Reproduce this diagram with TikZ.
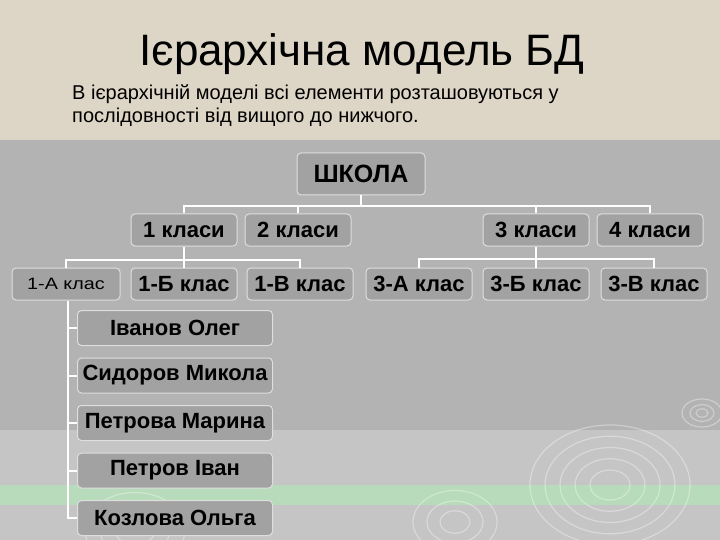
\documentclass[tikz,border=0pt]{standalone}
\usepackage{fontspec}
\setmainfont{Liberation Sans}
\newfontfamily\widefont[FakeStretch=1.2]{Liberation Sans}
\usepackage{tikz}
\usetikzlibrary{positioning}
\definecolor{paper}{HTML}{DDD6C6}
\definecolor{slate}{HTML}{B3B3B3}
\definecolor{slatelight}{HTML}{C5C5C5}
\definecolor{mint}{HTML}{B7DBBB}
\definecolor{boxfill}{HTML}{A2A2A2}
\definecolor{boxline}{HTML}{DEDEDE}
\tikzstyle{block} = [draw=boxline, fill=boxfill, rounded corners=4pt, line width=1pt, minimum height=32pt, minimum width=106pt, inner sep=0pt, font=\fontsize{22}{24}\selectfont\bfseries]
\tikzstyle{pupil} = [block, minimum width=195pt, minimum height=35pt, font=\fontsize{22}{24}\selectfont\bfseries]
\tikzstyle{link} = [draw=white, line width=2pt]
\tikzstyle{ring} = [draw=white, opacity=0.35, line width=1.2pt]

\begin{document}
\begin{tikzpicture}[x=1pt, y=-1pt]
    \useasboundingbox (0,0) rectangle (720,540);
    % slide background
    \begin{scope}
        \clip (0,0) rectangle (720,540);
        \fill[paper] (0,0) rectangle (720,140);
        \fill[slate] (0,140) rectangle (720,430);
        \fill[slatelight] (0,430) rectangle (720,540);
        \fill[mint] (0,485) rectangle (720,505);
        \foreach \r in {20,35,50,65,80} \draw[ring] (610,485) ellipse ({\r pt} and {0.75*\r pt});
        \foreach \r in {15,28,42} \draw[ring] (455,522) ellipse ({\r pt} and {0.75*\r pt});
        \foreach \r in {20,35,50} \draw[ring] (135,530) ellipse ({\r pt} and {0.75*\r pt});
        \foreach \r in {6,12,20} \draw[ring] (702,413) ellipse ({\r pt} and {0.7*\r pt});
    \end{scope}

    \node[anchor=base, font=\fontsize{44}{48}\selectfont] (title) at (362,66) {Ієрархічна модель БД};
    \node[anchor=base west, inner sep=0pt, font=\fontsize{20}{24}\selectfont] (intro) at (72,100)
        {В ієрархічній моделі всі елементи розташовуються у};
    \node[anchor=base west, inner sep=0pt, font=\fontsize{20}{24}\selectfont] (intro2) at (72,123)
        {послідовності від вищого до нижчого.};

    \node[block, name=school, minimum width=128pt, minimum height=42pt, font=\fontsize{25}{28}\selectfont\bfseries] at (361,174) {ШКОЛА};
    \node[block, name=grade1] at (184,230) {1 класи};
    \node[block, name=grade2] at (298,230) {2 класи};
    \node[block, name=grade3] at (536,230) {3 класи};
    \node[block, name=grade4] at (650,230) {4 класи};

    \node[block, name=class1a, minimum width=108pt, font=\widefont\fontsize{16.5}{18}\selectfont] at (66,284) {1-А клас};
    \node[block, name=class1b] at (184,284) {1-Б клас};
    \node[block, name=class1v] at (300,284) {1-В клас};
    \node[block, name=class3a] at (419,284) {3-А клас};
    \node[block, name=class3b] at (536,284) {3-Б клас};
    \node[block, name=class3v] at (654,284) {3-В клас};

    \node[pupil, name=pupil1] at (175,328) {Іванов Олег};
    \node[pupil, below=11.5pt of pupil1, name=pupil2] {Сидоров Микола};
    \node[pupil, below=11.5pt of pupil2, name=pupil3] {Петрова Марина};
    \node[pupil, below=11.5pt of pupil3, name=pupil4] {Петров Іван};
    \node[pupil, below=11.5pt of pupil4, name=pupil5] {Козлова Ольга};

    \draw[link] (school.south) -- ++(0,11) coordinate (schoolbus);
    \draw[link] (grade1.north) |- (schoolbus) -| (grade4.north);
    \draw[link] (grade2.north) -- (grade2.north |- schoolbus);
    \draw[link] (grade3.north) -- (grade3.north |- schoolbus);

    \draw[link] (grade1.south) -- ++(0,13) coordinate (bus1);
    \draw[link] (class1a.north) |- (bus1) -| (class1v.north);
    \draw[link] (class1b.north) -- (bus1);
    \draw[link] (grade3.south) -- ++(0,12) coordinate (bus3);
    \draw[link] (class3a.north) |- (bus3) -| (class3v.north);
    \draw[link] (class3b.north) -- (bus3);

    \coordinate (ladder) at ([xshift=2pt]class1a.south);
    \draw[link] (ladder) |- (pupil5.west);
    \foreach \p in {1,...,4}
        \draw[link] (pupil\p.west -| ladder) -- (pupil\p.west);
\end{tikzpicture}
\end{document}
